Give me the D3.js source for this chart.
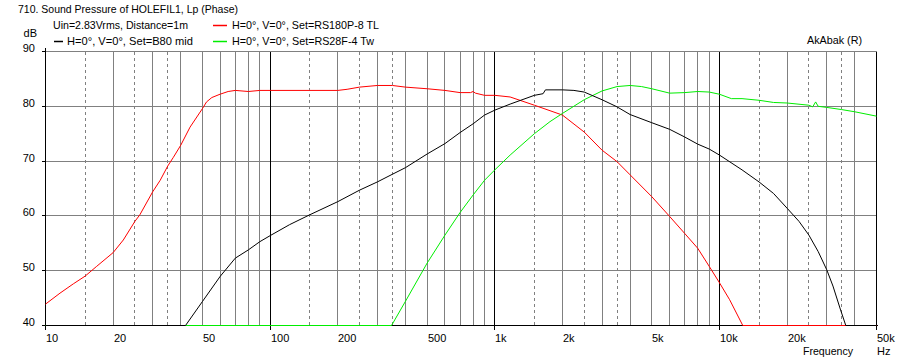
<!DOCTYPE html>
<html>
<head>
<meta charset="utf-8">
<script src="https://cdn.jsdelivr.net/npm/d3@7"></script>
<style>
  body { margin: 0; background: #fff; }
  svg { display: block; }
  text { font-family: "Liberation Sans", Arial, sans-serif; font-size: 11px; fill: #000; }
</style>
</head>
<body>
<div id="chart"></div>
<script>
// ---- data ----
const freqRed = [10, 11.6, 13.3, 15, 16.9, 20, 22.2, 25, 26.3, 30, 32.4, 35, 37.1, 40, 44, 50, 52.1, 55, 59.8, 65, 70, 80, 90, 100, 150, 200, 220, 250, 300, 350, 400, 500, 600, 700, 780, 800, 820, 900, 1000, 1170, 1500, 2000, 2500, 3000, 3500, 4000, 5000, 6000, 7000, 8000, 9000, 10000, 11100, 12700, 20000, 50000];
const dbRed   = [43.9, 45.9, 47.6, 49.0, 50.8, 53.3, 55.6, 59.0, 60.2, 64.4, 66.5, 69.1, 70.7, 72.9, 76.2, 79.6, 80.8, 81.6, 82.2, 82.7, 82.9, 82.7, 82.9, 82.9, 82.9, 82.9, 83.1, 83.5, 83.8, 83.8, 83.5, 83.2, 82.9, 82.5, 82.5, 82.7, 82.4, 82.0, 82.0, 81.7, 80.2, 78.4, 75.3, 72.0, 69.9, 67.5, 63.5, 59.9, 56.8, 54.1, 50.8, 47.8, 44.7, 40, 40, 40];

const freqBlack = [10, 42, 50, 60, 70, 80, 90, 100, 122, 150, 200, 250, 300, 350, 400, 500, 600, 700, 800, 900, 1000, 1170, 1500, 1640, 1680, 2000, 2250, 2500, 3000, 3500, 4000, 5000, 6000, 7000, 8000, 9000, 10000, 12600, 15000, 17400, 20000, 22600, 25000, 27500, 30000, 32000, 34500, 36500, 50000];
const dbBlack   = [40, 40, 44.4, 49.0, 52.3, 53.8, 55.3, 56.4, 58.4, 60.2, 62.6, 64.7, 66.2, 67.6, 68.8, 71.3, 73.2, 75.2, 76.8, 78.4, 79.3, 80.4, 82.0, 82.3, 83.0, 83.0, 82.9, 82.6, 81.2, 79.9, 78.5, 77.0, 75.8, 74.4, 73.1, 72.2, 71.1, 68.4, 66.2, 64.1, 61.4, 59.0, 56.5, 53.5, 50.2, 47.2, 43.0, 40, 40];

const freqGreen = [10, 347, 400, 500, 600, 700, 800, 900, 1000, 1170, 1500, 1760, 2000, 2500, 3000, 3500, 4000, 4500, 5000, 6000, 7000, 8000, 9000, 10000, 11300, 12600, 15000, 17400, 20000, 25000, 26000, 26800, 27500, 30000, 35000, 40000, 50000];
const dbGreen   = [40, 40, 44.4, 51.4, 56.5, 60.6, 63.8, 66.5, 68.4, 71.1, 75.0, 77.2, 78.7, 81.2, 82.8, 83.6, 83.8, 83.6, 83.2, 82.4, 82.5, 82.7, 82.6, 82.2, 81.4, 81.4, 81.1, 80.7, 80.6, 80.2, 79.9, 80.8, 80.0, 79.8, 79.4, 79.0, 78.2];

const xTickLabels = [[10, "10"], [20, "20"], [50, "50"], [100, "100"], [200, "200"], [500, "500"],
                     [1000, "1k"], [2000, "2k"], [5000, "5k"], [10000, "10k"], [20000, "20k"], [50000, "50k"]];
const yTicks = [40, 50, 60, 70, 80, 90];

const legendItems = [
  {label: "H=0°, V=0°, Set=RS180P-8 TL", color: "#ff0000", col: 1, row: 0, w: 147},
  {label: "H=0°, V=0°, Set=B80 mid",      color: "#000000", col: 0, row: 1, w: 126},
  {label: "H=0°, V=0°, Set=RS28F-4 Tw",   color: "#00ee00", col: 1, row: 1, w: 142}
];

// ---- layout ----
const W = 899, H = 363;
const svg = d3.select("#chart").append("svg").attr("width", W).attr("height", H);

const x = d3.scaleLog().domain([10, 50000]).range([45.5, 876.5]);
const y = d3.scaleLinear().domain([40, 90]).range([325.5, 51.5]);
const px = v => Math.floor(x(v)) + 0.5;
const py = v => Math.floor(y(v)) + 0.5;

// vertical grid: 1..4 in half steps (halves dashed), then 5..9
const grid = svg.append("g").attr("shape-rendering", "crispEdges");
const vlines = [];
[10, 100, 1000, 10000].forEach(dec => {
  for (let m = 1; m <= 9.5; m += 0.5) {
    const f = dec * m;
    if (f > 50000) break;
    if (m > 4 && m % 1 !== 0) continue;
    vlines.push({f, kind: m === 1 ? "major" : (m % 1 ? "dash" : "minor")});
  }
});
vlines.push({f: 50000, kind: "major"});

grid.selectAll("line.v").data(vlines.filter(d => d.kind !== "major")).join("line")
  .attr("x1", d => px(d.f)).attr("x2", d => px(d.f))
  .attr("y1", py(90)).attr("y2", py(40))
  .attr("stroke", "#808080")
  .attr("stroke-dasharray", d => d.kind === "dash" ? "3,3" : null);

// horizontal grid
grid.selectAll("line.h").data(yTicks.filter(t => t > 40)).join("line")
  .attr("x1", px(10)).attr("x2", px(50000))
  .attr("y1", d => py(d)).attr("y2", d => py(d))
  .attr("stroke", "#808080");

// decade lines + ticks below
grid.selectAll("line.maj").data(vlines.filter(d => d.kind === "major")).join("line")
  .attr("x1", d => px(d.f)).attr("x2", d => px(d.f))
  .attr("y1", py(90)).attr("y2", py(40) + 4)
  .attr("stroke", "#000");

// left axis, bottom line, y ticks
grid.append("line").attr("x1", px(10)).attr("x2", px(10)).attr("y1", py(90) - 4).attr("y2", py(40)).attr("stroke", "#000");
grid.append("line").attr("x1", px(10)).attr("x2", px(50000) + 1).attr("y1", py(40)).attr("y2", py(40)).attr("stroke", "#000");
grid.selectAll("line.yt").data(yTicks).join("line")
  .attr("x1", px(10) - 4).attr("x2", px(10))
  .attr("y1", d => py(d)).attr("y2", d => py(d))
  .attr("stroke", "#000");

// ---- curves ----
const line = d3.line().x(d => x(d[0])).y(d => y(d[1]));
const series = [
  {f: freqRed, v: dbRed, color: "#ff0000"},
  {f: freqGreen, v: dbGreen, color: "#00ee00"},
  {f: freqBlack, v: dbBlack, color: "#000000"}
];
svg.append("g").selectAll("path").data(series).join("path")
  .attr("d", s => line(s.f.map((f, i) => [f, s.v[i]])))
  .attr("fill", "none")
  .attr("stroke", s => s.color)
  .attr("stroke-width", 1);

// ---- axis labels ----
svg.selectAll("text.xt").data(xTickLabels).join("text")
  .attr("x", d => Math.floor(x(d[0])) + 1).attr("y", 342)
  .text(d => d[1]);

svg.selectAll("text.yt").data(yTicks).join("text")
  .attr("x", 35).attr("y", d => Math.floor(y(d)) + 1)
  .attr("text-anchor", "end")
  .text(d => d);

svg.append("text").attr("x", 37).attr("y", 37).attr("text-anchor", "end").text("dB");
svg.append("text").attr("x", 803).attr("y", 355)
  .attr("textLength", 50).attr("lengthAdjust", "spacingAndGlyphs").text("Frequency");
svg.append("text").attr("x", 877).attr("y", 355).text("Hz");

// ---- titles & legend ----
svg.append("text").attr("x", 18).attr("y", 13)
  .attr("textLength", 220).attr("lengthAdjust", "spacingAndGlyphs")
  .text("710. Sound Pressure of HOLEFIL1, Lp (Phase)");
svg.append("text").attr("x", 53).attr("y", 29)
  .attr("textLength", 135).attr("lengthAdjust", "spacingAndGlyphs")
  .text("Uin=2.83Vrms, Distance=1m");
svg.append("text").attr("x", 807).attr("y", 44)
  .attr("textLength", 55).attr("lengthAdjust", "spacingAndGlyphs")
  .text("AkAbak (R)");

const colX = [54, 213];
const rowY = [25, 41];
const leg = svg.append("g").selectAll("g").data(legendItems).join("g");
leg.append("line")
  .attr("x1", d => colX[d.col]).attr("x2", d => colX[d.col] + (d.col ? 14 : 9))
  .attr("y1", d => rowY[d.row] + 0.5).attr("y2", d => rowY[d.row] + 0.5)
  .attr("stroke", d => d.color).attr("stroke-width", 1.5);
leg.append("text")
  .attr("x", d => d.col ? 232 : 67).attr("y", d => rowY[d.row] + 4)
  .attr("textLength", d => d.w).attr("lengthAdjust", "spacingAndGlyphs")
  .text(d => d.label);
</script>
</body>
</html>
